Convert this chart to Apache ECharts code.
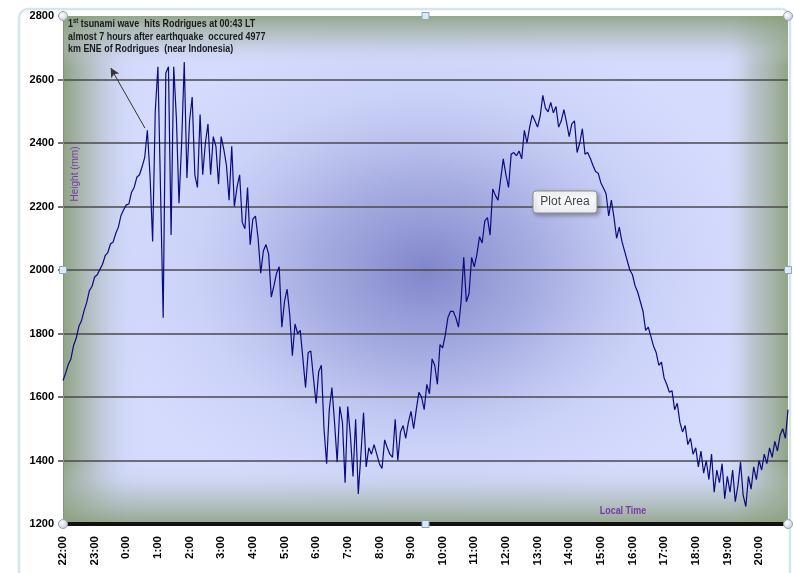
<!DOCTYPE html>
<html>
<head>
<meta charset="utf-8">
<title>Rodrigues tide gauge</title>
<script src="https://cdn.jsdelivr.net/npm/echarts@6/dist/echarts.min.js"></script>
<style>
  html, body { margin: 0; padding: 0; background: #fff; }
  #chart { width: 794px; height: 573px; }
</style>
</head>
<body>
<div id="chart"></div>
<script>
// hour tick labels, 22:00 on the first day to 20:00 on the next
const hourLabels = ['22:00', '23:00', '0:00', '1:00', '2:00', '3:00', '4:00', '5:00', '6:00', '7:00', '8:00',
    '9:00', '10:00', '11:00', '12:00', '13:00', '14:00', '15:00', '16:00', '17:00', '18:00', '19:00', '20:00'];

// one reading every 5 minutes
const stepHours = 5 / 60;

// sea level height (mm), one row per hour starting at 22:00
const heights = [
    1652, 1675, 1702, 1720, 1762, 1785, 1822, 1840, 1872, 1898, 1935, 1948,
    1978, 1985, 2002, 2018, 2045, 2055, 2082, 2088, 2115, 2135, 2172, 2190,
    2205, 2208, 2245, 2260, 2292, 2300, 2325, 2355, 2440, 2300, 2090, 2500,
    2640, 2250, 1850, 2620, 2640, 2110, 2640, 2480, 2210, 2400, 2655, 2290,
    2470, 2545, 2300, 2260, 2490, 2300, 2400, 2460, 2300, 2420, 2390, 2270,
    2420, 2380, 2330, 2220, 2390, 2200, 2260, 2300, 2150, 2130, 2260, 2080,
    2160, 2170, 2100, 1990, 2060, 2080, 2050, 1915, 1950, 1990, 2010, 1820,
    1900, 1940, 1860, 1730, 1830, 1800, 1810, 1720, 1630, 1740, 1745, 1660,
    1580, 1680, 1700, 1500, 1390, 1560, 1630, 1520, 1395, 1570, 1520, 1330,
    1570, 1480, 1350, 1530, 1295, 1420, 1550, 1380, 1440, 1420, 1450, 1420,
    1390, 1375, 1465, 1440, 1420, 1410, 1530, 1400, 1490, 1510, 1470, 1520,
    1555, 1500, 1560, 1615, 1600, 1560, 1640, 1610, 1720, 1700, 1640, 1765,
    1755, 1795, 1850, 1870, 1870, 1850, 1820, 1900, 2040, 1900, 1925, 2040,
    2010, 2050, 2105, 2085, 2155, 2165, 2110, 2255, 2235, 2220, 2285, 2350,
    2300, 2260, 2365, 2370, 2360, 2375, 2350, 2440, 2400, 2450, 2488, 2470,
    2450, 2485, 2550, 2510, 2498, 2528, 2495, 2515, 2450, 2470, 2505, 2465,
    2420, 2460, 2470, 2370, 2400, 2445, 2365, 2370, 2352, 2330, 2310, 2305,
    2275, 2258, 2240, 2170, 2220, 2165, 2100, 2135, 2090, 2060, 2030, 2000,
    1985, 1950, 1930, 1900, 1870, 1810, 1820, 1790, 1760, 1740, 1700, 1710,
    1660, 1640, 1615, 1620, 1560, 1580, 1520, 1490, 1510, 1450, 1470, 1420,
    1440, 1380, 1430, 1360, 1400, 1340, 1420, 1300, 1370, 1330, 1390, 1280,
    1350, 1300, 1370, 1270, 1320, 1395, 1290, 1255, 1350, 1310, 1380, 1340,
    1400, 1370, 1420, 1390, 1440, 1410, 1460, 1430, 1480, 1500, 1470, 1560
];

// annotation and arrow (hours after 22:00, mm)
const noteText = '{a|1}{s|st}{a| tsunami wave  hits Rodrigues at 00:43 LT}\n' +
    '{a|almost 7 hours after earthquake  occured 4977}\n' +
    '{a|km ENE of Rodrigues  (near Indonesia)}';
const arrowFrom = [2.59, 2447];
const arrowTo = [1.51, 2636];

// plot area box in pixels
const plot = { left: 63, top: 16, width: 725, height: 508 };

const chart = echarts.init(document.getElementById('chart'));

const purple = '#7a3aa8';
const font = 'Liberation Sans';

function handleCircle(x, y) {
    return {
        type: 'circle', z: 100, shape: { cx: x, cy: y, r: 4.5 },
        style: {
            fill: { type: 'radial', x: 0.4, y: 0.4, r: 0.6, colorStops: [{ offset: 0, color: '#ffffff' }, { offset: 1, color: '#c8ced8' }] },
            stroke: '#97a3b0', lineWidth: 1
        }
    };
}
function handleSquare(x, y) {
    return {
        type: 'rect', z: 100, shape: { x: x - 3.5, y: y - 3.5, width: 7, height: 7 },
        style: { fill: '#dde9f6', stroke: '#8aa4bf', lineWidth: 1 }
    };
}

const cx = plot.left + plot.width / 2;
const cy = plot.top + plot.height / 2;
const right = plot.left + plot.width;
const bottom = plot.top + plot.height;

const graphics = [
    // chart area frame
    {
        type: 'rect', z: -20, shape: { x: 19, y: 9, width: 771, height: 600, r: 9 },
        style: { fill: 'none', stroke: '#d4e6ec', lineWidth: 2.5 }
    },
    // plot area fill
    {
        type: 'rect', z: -10, shape: { x: plot.left, y: plot.top, width: plot.width, height: plot.height },
        style: { fill: '#d4dbfd' }
    },
    {
        type: 'rect', z: -9, x: cx, y: cy, scaleX: 1.3,
        shape: { x: -plot.height / 2, y: -plot.height / 2, width: plot.height, height: plot.height },
        style: {
            fill: {
                type: 'radial', x: 0.5, y: 0.5, r: 0.5, colorStops: [
                    { offset: 0, color: 'rgba(100,106,186,0.75)' },
                    { offset: 0.35, color: 'rgba(112,118,192,0.45)' },
                    { offset: 0.7, color: 'rgba(140,146,210,0.12)' },
                    { offset: 1, color: 'rgba(160,166,220,0)' }
                ]
            }
        }
    },
    {
        type: 'rect', z: -8, shape: { x: plot.left, y: plot.top, width: plot.width, height: plot.height },
        style: {
            fill: {
                type: 'linear', x: 0, y: 0, x2: 1, y2: 0, colorStops: [
                    { offset: 0, color: 'rgba(138,158,120,0.92)' },
                    { offset: 0.04, color: 'rgba(160,175,160,0.6)' },
                    { offset: 0.09, color: 'rgba(195,205,235,0.15)' },
                    { offset: 0.13, color: 'rgba(212,220,253,0)' },
                    { offset: 0.91, color: 'rgba(212,220,253,0)' },
                    { offset: 0.95, color: 'rgba(160,175,160,0.5)' },
                    { offset: 1, color: 'rgba(138,158,120,0.9)' }
                ]
            }
        }
    },
    {
        type: 'rect', z: -7, shape: { x: plot.left, y: plot.top, width: plot.width, height: plot.height },
        style: {
            fill: {
                type: 'linear', x: 0, y: 0, x2: 0, y2: 1, colorStops: [
                    { offset: 0, color: 'rgba(138,158,120,0.85)' },
                    { offset: 0.05, color: 'rgba(165,180,170,0.45)' },
                    { offset: 0.1, color: 'rgba(212,220,253,0)' },
                    { offset: 0.88, color: 'rgba(212,220,253,0)' },
                    { offset: 0.94, color: 'rgba(165,180,170,0.45)' },
                    { offset: 1, color: 'rgba(138,158,120,0.85)' }
                ]
            }
        }
    },
    // texts (squeezed a little, the original font is a narrow one)
    {
        type: 'text', z: 50, x: 68, y: 18, scaleX: 0.85,
        style: {
            text: noteText, fill: '#1a1a1a', verticalAlign: 'top', align: 'left',
            rich: {
                a: { fontSize: 10.5, fontWeight: 'bold', fontFamily: font, lineHeight: 12.5, fill: '#1a1a1a' },
                s: { fontSize: 7, fontWeight: 'bold', fontFamily: font, lineHeight: 7, verticalAlign: 'top', fill: '#1a1a1a' }
            }
        }
    },
    {
        type: 'text', z: 50, x: 75, y: 174, rotation: Math.PI / 2,
        style: { text: 'Height (mm)', fill: purple, fontSize: 10, fontFamily: font, align: 'center', verticalAlign: 'middle' }
    },
    {
        type: 'text', z: 50, x: 623, y: 511, scaleX: 0.85,
        style: { text: 'Local Time', fill: purple, fontSize: 10.5, fontWeight: 'bold', fontFamily: font, align: 'center', verticalAlign: 'middle' }
    },
    // "Plot Area" hover box
    {
        type: 'rect', z: 90, shape: { x: 533, y: 191, width: 64, height: 22, r: 3 },
        style: {
            fill: { type: 'linear', x: 0, y: 0, x2: 0, y2: 1, colorStops: [{ offset: 0, color: '#ffffff' }, { offset: 1, color: '#eceef2' }] },
            stroke: '#8c8c8c', lineWidth: 1, shadowBlur: 4, shadowOffsetX: 2, shadowOffsetY: 2, shadowColor: 'rgba(0,0,0,0.3)'
        }
    },
    {
        type: 'text', z: 91, x: 565, y: 202,
        style: { text: 'Plot Area', fill: '#444', fontSize: 12, fontFamily: font, align: 'center', verticalAlign: 'middle' }
    },
    // selection handles
    handleCircle(plot.left, plot.top), handleCircle(right, plot.top),
    handleCircle(plot.left, bottom), handleCircle(right, bottom),
    handleSquare(cx, plot.top), handleSquare(cx, bottom),
    handleSquare(plot.left, cy), handleSquare(right, cy)
];

const option = {
    backgroundColor: '#fff',
    animation: false,
    graphic: graphics,
    grid: {
        left: plot.left,
        top: plot.top,
        width: plot.width,
        height: plot.height
    },
    xAxis: {
        type: 'value',
        min: 0,
        max: (heights.length - 1) * stepHours,
        interval: 1,
        axisLine: { show: true, onZero: false, lineStyle: { color: '#111', width: 4 } },
        axisTick: { show: false },
        splitLine: { show: false },
        axisLabel: {
            rotate: 90,
            margin: 12,
            fontSize: 11.5,
            fontWeight: 'bold',
            color: '#000',
            fontFamily: font,
            showMaxLabel: false,
            formatter: v => (Number.isInteger(v) ? hourLabels[v] || '' : '')
        }
    },
    yAxis: {
        type: 'value',
        min: 1200,
        max: 2800,
        interval: 200,
        axisLine: { show: true, lineStyle: { color: '#8a8f88', width: 1 } },
        axisTick: { show: true, length: 5, lineStyle: { color: '#444', width: 1.5 } },
        splitLine: { show: true, showMaxLine: false, showMinLine: false, lineStyle: { color: '#4a4a4a', width: 1.6 } },
        axisLabel: {
            margin: 9,
            fontSize: 11,
            fontWeight: 'bold',
            color: '#000',
            fontFamily: font,
            formatter: v => String(v)
        }
    },
    series: [
        {
            name: 'Height',
            type: 'line',
            data: heights.map((v, i) => [i * stepHours, v]),
            showSymbol: false,
            symbol: 'none',
            z: 3,
            lineStyle: { color: '#0b0b82', width: 1.2 },
            markLine: {
                silent: true,
                symbol: ['none', 'arrow'],
                symbolSize: [7, 9],
                label: { show: false },
                lineStyle: { color: '#333', width: 1, type: 'solid' },
                data: [[{ coord: arrowFrom }, { coord: arrowTo }]]
            }
        }
    ]
};

chart.setOption(option);
window.addEventListener('resize', () => chart.resize());
</script>
</body>
</html>
